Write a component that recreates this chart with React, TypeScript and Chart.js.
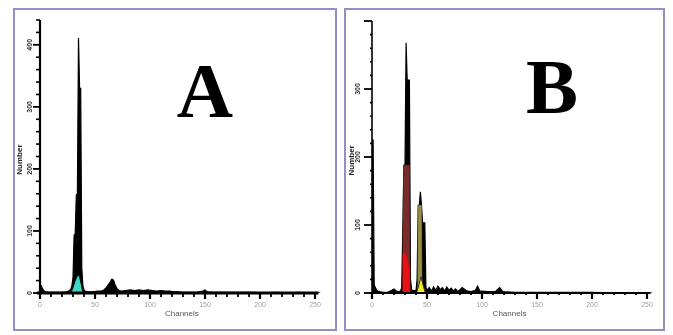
import React, { useEffect, useRef } from "react";
import { Chart, registerables } from "chart.js";

Chart.register(...registerables);

// ---------- data ----------
const X_TICK_LABELS = [0, 50, 100, 150, 200, 250];
const A_Y_TICK_LABELS = [0, 100, 200, 300, 400];
const B_Y_TICK_LABELS = [0, 100, 200, 300];

// Panel A histogram (channel, count)
const A_CHANNELS = [0, 1, 2, 3, 4, 5, 8, 12, 16, 20, 24, 26, 28, 29, 30, 31, 32, 33, 34, 35, 36, 37, 38, 39, 40, 41, 44, 48, 52, 56, 58, 60, 62, 64, 65, 66, 67, 68, 70, 72, 74, 78, 82, 86, 90, 94, 98, 102, 106, 110, 114, 118, 122, 126, 130, 136, 142, 148, 150, 152, 158, 166, 175, 185, 195, 205, 215, 225, 235, 245, 255];
const A_COUNTS = [14, 12, 8, 5, 3, 2, 1, 1, 1, 1, 2, 3, 6, 12, 25, 93, 95, 158, 160, 411, 330, 330, 40, 12, 5, 3, 2, 2, 3, 3, 5, 8, 13, 18, 22, 22, 20, 14, 7, 4, 3, 4, 5, 4, 5, 4, 5, 4, 3, 4, 3, 3, 2, 2, 1, 1, 1, 3, 5, 2, 1, 1, 1, 1, 1, 0, 1, 0, 1, 0, 0];
// Panel A G0/G1 fit (cyan)
const A_FIT_CHANNELS = [28, 30, 32, 34, 35, 36, 38, 39];
const A_FIT_COUNTS = [0, 9, 20, 28, 29, 26, 10, 0];

// Panel B histogram
const B_CHANNELS = [0, 1, 2, 3, 4, 5, 7, 10, 14, 18, 20, 22, 24, 26, 27, 28, 29, 30, 31, 32, 33, 34, 35, 36, 37, 38, 40, 41, 42, 43, 44, 45, 46, 47, 48, 49, 50, 52, 54, 56, 58, 60, 62, 64, 66, 68, 70, 72, 74, 76, 78, 82, 86, 90, 94, 96, 98, 105, 112, 116, 119, 130, 150, 175, 200, 225, 255];
const B_COUNTS = [225, 225, 12, 8, 5, 3, 2, 1, 1, 4, 6, 3, 2, 3, 8, 96, 188, 188, 368, 313, 313, 313, 20, 5, 3, 4, 3, 20, 129, 129, 149, 129, 103, 103, 103, 8, 4, 8, 3, 9, 4, 10, 5, 8, 3, 9, 4, 7, 3, 6, 2, 8, 3, 2, 4, 10, 3, 2, 2, 8, 2, 1, 1, 1, 1, 0, 0];
// Panel B overlays
const B_MAROON_CHANNELS = [27.5, 28, 29, 34, 34.6];
const B_MAROON_COUNTS = [0, 96, 188, 188, 0];
const B_RED_CHANNELS = [27.5, 28, 30, 32, 34, 34.6];
const B_RED_COUNTS = [0, 56, 60, 52, 35, 0];
const B_OLIVE_CHANNELS = [41.5, 42, 45, 45.5];
const B_OLIVE_COUNTS = [0, 129, 129, 0];
const B_YELLOW_CHANNELS = [40.5, 43, 44.5, 46, 48.5];
const B_YELLOW_COUNTS = [0, 14, 24, 14, 0];

const toXY = (ch: number[], v: number[]) => ch.map((c, i) => ({ x: c, y: v[i] }));

// ---------- axes plugin ----------
const flowAxes = {
  id: "flowAxes",
  afterDatasetsDraw(chart: any, _args: any, opts: any) {
    const { ctx } = chart;
    const xs = chart.scales.x;
    const ys = chart.scales.y;
    const y0 = ys.getPixelForValue(0);
    const x0 = xs.getPixelForValue(0);
    ctx.save();
    ctx.strokeStyle = "#000";
    ctx.fillStyle = "#000";
    // y axis line
    ctx.lineWidth = opts.yAxisWidth;
    ctx.beginPath();
    ctx.moveTo(x0, ys.getPixelForValue(ys.max));
    ctx.lineTo(x0, y0 + 1);
    ctx.stroke();
    // y ticks
    for (let v = 0; v <= ys.max; v += opts.yMinor) {
      const py = ys.getPixelForValue(v);
      const major = v % 100 === 0;
      ctx.lineWidth = major ? 1.8 : 1.6;
      ctx.beginPath();
      ctx.moveTo(x0, py);
      ctx.lineTo(x0 - (major ? opts.yMajorLen : opts.yMinorLen), py);
      ctx.stroke();
    }
    // x axis line
    ctx.lineWidth = opts.xAxisWidth;
    ctx.beginPath();
    ctx.moveTo(x0 - 3, y0);
    ctx.lineTo(xs.getPixelForValue(xs.max) - 2, y0);
    ctx.stroke();
    // x ticks
    for (let c = 0; c <= 250; c += 10) {
      const px = xs.getPixelForValue(c);
      const major = c % 50 === 0;
      ctx.lineWidth = major ? 2.2 : 1.8;
      ctx.beginPath();
      ctx.moveTo(px, y0);
      ctx.lineTo(px, y0 + (major ? 6 : opts.xMinorLen));
      ctx.stroke();
    }
    // x tick labels
    ctx.fillStyle = "#a0a0a0";
    ctx.font = "7px 'Liberation Sans', Arial, sans-serif";
    ctx.textAlign = "center";
    ctx.textBaseline = "middle";
    for (const t of opts.xLabels) {
      ctx.fillText(String(t), xs.getPixelForValue(t), y0 + 12);
    }
    // x title
    ctx.fillStyle = "#555";
    ctx.font = "8px 'Liberation Sans', Arial, sans-serif";
    ctx.fillText(opts.xTitle, xs.getPixelForValue(opts.xTitleAt), y0 + 21);
    // y tick labels (rotated)
    ctx.fillStyle = "#333";
    ctx.font = "bold 7px 'Liberation Sans', Arial, sans-serif";
    for (const t of opts.yLabels) {
      const py = ys.getPixelForValue(t);
      ctx.save();
      ctx.translate(x0 - opts.yLabelOffset, py);
      ctx.rotate(-Math.PI / 2);
      ctx.fillText(String(t), 0, 0);
      ctx.restore();
    }
    // y title
    ctx.save();
    ctx.translate(x0 - 20, ys.getPixelForValue(opts.yTitleAt));
    ctx.rotate(-Math.PI / 2);
    ctx.fillStyle = "#222";
    ctx.font = "bold 8px 'Liberation Sans', Arial, sans-serif";
    ctx.fillText(opts.yTitle, 0, 0);
    ctx.restore();
    ctx.restore();
  },
};

function FlowChart(props: { width: number; height: number; datasets: any[]; yMax: number; padding: any; axes: any }) {
  const ref = useRef<HTMLCanvasElement>(null);
  useEffect(() => {
    if (!ref.current) return;
    const chart = new Chart(ref.current, {
      type: "line",
      data: { datasets: props.datasets },
      options: {
        animation: false,
        responsive: false,
        layout: { padding: props.padding },
        elements: { point: { radius: 0 }, line: { tension: 0 } },
        scales: {
          x: { type: "linear", min: 0, max: 255, display: false },
          y: { type: "linear", min: 0, max: props.yMax, display: false },
        },
        plugins: {
          legend: { display: false },
          tooltip: { enabled: false },
          flowAxes: props.axes,
        } as any,
      },
      plugins: [flowAxes as any],
    });
    return () => chart.destroy();
  }, []);
  return <canvas ref={ref} width={props.width} height={props.height} style={{ display: "block" }} />;
}

const panelBorder = "2px solid #9090c4";

export default function App() {
  const aDatasets = [
    {
      data: toXY(A_FIT_CHANNELS, A_FIT_COUNTS),
      borderColor: "#000",
      borderWidth: 1,
      backgroundColor: "#3fd6c6",
      fill: "origin",
      order: 0,
    },
    {
      data: toXY(A_CHANNELS, A_COUNTS),
      borderColor: "#000",
      borderWidth: 1.2,
      backgroundColor: "#000",
      fill: "origin",
      order: 1,
    },
  ];
  const bDatasets = [
    {
      data: toXY(B_YELLOW_CHANNELS, B_YELLOW_COUNTS),
      borderColor: "#333",
      borderWidth: 1,
      backgroundColor: "#f4f020",
      fill: "origin",
      order: 0,
    },
    {
      data: toXY(B_RED_CHANNELS, B_RED_COUNTS),
      borderColor: "#e01010",
      borderWidth: 0.5,
      backgroundColor: "#e81212",
      fill: "origin",
      order: 1,
    },
    {
      data: toXY(B_OLIVE_CHANNELS, B_OLIVE_COUNTS),
      borderColor: "#8c8a40",
      borderWidth: 0.5,
      backgroundColor: "#948f45",
      fill: "origin",
      order: 2,
    },
    {
      data: toXY(B_MAROON_CHANNELS, B_MAROON_COUNTS),
      borderColor: "#6e2a2a",
      borderWidth: 0.5,
      backgroundColor: "#7a2c2c",
      fill: "origin",
      order: 3,
    },
    {
      data: toXY(B_CHANNELS, B_COUNTS),
      borderColor: "#000",
      borderWidth: 1.2,
      backgroundColor: "#000",
      fill: "origin",
      order: 4,
    },
  ];

  const letterStyle: React.CSSProperties = {
    position: "absolute",
    width: 100,
    textAlign: "center",
    fontFamily: "'Liberation Serif', 'Times New Roman', serif",
    fontWeight: "bold",
    fontSize: 78,
    lineHeight: 1,
    color: "#000",
  };

  return (
    <div style={{ position: "absolute", left: 0, top: 0, width: 673, height: 335, background: "#fff", overflow: "hidden", filter: "blur(0.4px)" }}>
      <div style={{ position: "absolute", left: 13, top: 8, width: 324, height: 323, border: panelBorder, boxSizing: "border-box" }} />
      <div style={{ position: "absolute", left: 344, top: 8, width: 321, height: 323, border: panelBorder, boxSizing: "border-box" }} />
      <div style={{ position: "absolute", left: 13, top: 8 }}>
        <FlowChart
          width={324}
          height={322}
          yMax={440}
          datasets={aDatasets}
          padding={{ left: 27, right: 16.5, top: 12, bottom: 37 }}
          axes={{
            yAxisWidth: 2.2,
            xAxisWidth: 3,
            yMinor: 20,
            yMajorLen: 7,
            yMinorLen: 4,
            xMinorLen: 4,
            xLabels: X_TICK_LABELS,
            yLabels: A_Y_TICK_LABELS,
            yLabelOffset: 10,
            xTitle: "Channels",
            xTitleAt: 129,
            yTitle: "Number",
            yTitleAt: 215,
          }}
        />
      </div>
      <div style={{ position: "absolute", left: 345, top: 8 }}>
        <FlowChart
          width={320}
          height={322}
          yMax={400}
          datasets={bDatasets}
          padding={{ left: 27, right: 12.5, top: 13, bottom: 37 }}
          axes={{
            yAxisWidth: 1.6,
            xAxisWidth: 2,
            yMinor: 20,
            yMajorLen: 8,
            yMinorLen: 2,
            xMinorLen: 2,
            xLabels: X_TICK_LABELS,
            yLabels: B_Y_TICK_LABELS,
            yLabelOffset: 14,
            xTitle: "Channels",
            xTitleAt: 125,
            yTitle: "Number",
            yTitleAt: 195,
          }}
        />
      </div>
      <div style={{ ...letterStyle, left: 155, top: 52 }}>A</div>
      <div style={{ ...letterStyle, left: 502, top: 48 }}>B</div>
    </div>
  );
}
